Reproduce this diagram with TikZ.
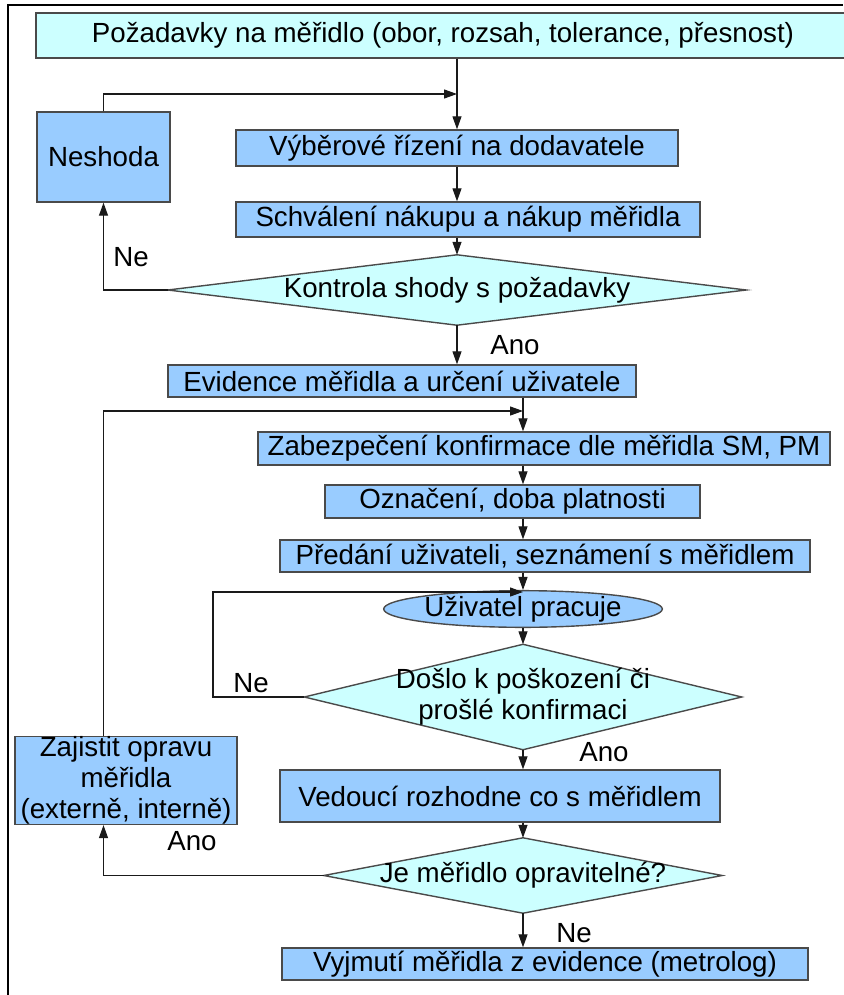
\documentclass[tikz,border=0pt]{standalone}
\usepackage{fontspec}
\setmainfont{Liberation Sans}
\usetikzlibrary{arrows.meta,shapes.geometric}
\definecolor{procblue}{HTML}{99CCFF}
\definecolor{decfill}{HTML}{CCFFFF}
\definecolor{edge}{HTML}{4A4A4A}
\definecolor{wire}{HTML}{1A1A1A}
\tikzset{
  txt/.style={font=\fontsize{27.7}{31}\selectfont},
  procbox/.style={rectangle, draw=edge, fill=procblue, line width=1.4pt, inner sep=0pt, txt},
  headbox/.style={procbox, fill=decfill},
  decframe/.style={rectangle, draw=none, inner sep=0pt},
  decshape/.style={draw=edge, fill=decfill, line width=1.4pt},
  termbox/.style={ellipse, draw=edge, fill=procblue, line width=1.4pt, inner sep=0pt, txt},
  lbl/.style={inner sep=0pt, txt},
  arr/.style={draw=wire, line width=1.2pt, -{Triangle[length=13pt,width=9pt]}},
}
\begin{document}
\begin{tikzpicture}[x=1pt, y=-1pt]
\useasboundingbox (0,0) rectangle (843,995);
\fill[white] (0,0) rectangle (843,995);
% outer frame (top and left edges)
\draw[line width=2pt, black] (8,995) -- (8,5) -- (843,5);

% process boxes
\node[headbox, minimum width=814, minimum height=45] (top) at (443,35.5) {Požadavky na měřidlo (obor, rozsah, tolerance, přesnost)};
\node[procbox, minimum width=133, minimum height=90] (nes) at (103.5,157) {Neshoda};
\node[procbox, minimum width=442, minimum height=36] (vyber) at (457,148) {Výběrové řízení na dodavatele};
\node[procbox, minimum width=464, minimum height=35] (schv) at (468,219.5) {Schválení nákupu a nákup měřidla};

% decision: Kontrola shody
\node[decframe, minimum width=578, minimum height=70] (k) at (457,290) {};
\filldraw[decshape] (k.west) -- (k.north) -- (k.east) -- (k.south) -- cycle;
\node[lbl] (ktxt) at (k.center) {Kontrola shody s požadavky};

\node[procbox, minimum width=468, minimum height=32] (evid) at (402,381) {Evidence měřidla a určení uživatele};
\node[procbox, minimum width=572, minimum height=33] (zab) at (544,448.5) {Zabezpečení konfirmace dle měřidla SM, PM};
\node[procbox, minimum width=375, minimum height=33] (ozn) at (512.5,501.5) {Označení, doba platnosti};
\node[procbox, minimum width=530, minimum height=32] (pred) at (545,556) {Předání uživateli, seznámení s měřidlem};
\node[termbox, minimum width=265, minimum height=27] (uz) at (523,609) {Uživatel pracuje};

% decision: poškození / konfirmace
\node[decframe, minimum width=437, minimum height=105] (d2) at (523,697) {};
\filldraw[decshape] (d2.west) -- (d2.north) -- (d2.east) -- (d2.south) -- cycle;
\node[lbl, align=center] (d2txt) at (d2.center) {Došlo k poškození či\\prošlé konfirmaci};

\node[procbox, minimum width=440, minimum height=52] (ved) at (500,796) {Vedoucí rozhodne co s měřidlem};

% decision: opravitelné
\node[decframe, minimum width=398, minimum height=75] (d3) at (523,875.5) {};
\filldraw[decshape] (d3.west) -- (d3.north) -- (d3.east) -- (d3.south) -- cycle;
\node[lbl] (d3txt) at (d3.center) {Je měřidlo opravitelné?};

\node[procbox, minimum width=222, minimum height=87, align=center] (zaj) at (126,780.5) {Zajistit opravu\\měřidla\\(externě, interně)};
\node[procbox, minimum width=526, minimum height=32] (vyj) at (545,964) {Vyjmutí měřidla z evidence (metrolog)};

% junction points of the loops
\coordinate (j1) at (457,94);
\coordinate (m1) at (523,411);
\coordinate (m2) at (523,592);
\coordinate (c2) at (213,592);

% connectors
\draw[arr] (vyber.north |- top.south) -- (vyber.north);
\draw[arr] (nes.north) |- (j1);
\draw[arr] (vyber.south) -- (vyber.south |- schv.north);
\draw[arr] (k.north |- schv.south) -- (k.north);
\draw[arr] (k.west) -| (nes.south);
\draw[arr] (k.south) -- (k.south |- evid.north);
\draw[arr] (evid.south -| m1) -- (zab.north -| m1);
\draw[arr] (zaj.north -| nes.south) |- (m1);
\draw[arr] (zab.south -| m1) -- (ozn.north -| m1);
\draw[arr] (ozn.south -| m1) -- (pred.north -| m1);
\draw[arr] (pred.south -| m1) -- (uz.north);
\draw[arr] (d2.west) -| (c2) -- (m2);
\draw[arr] (uz.south) -- (d2.north);
\draw[arr] (d2.south) -- (d2.south |- ved.north);
\draw[arr] (d2.south |- ved.south) -- (d3.north);
\draw[arr] (d3.west) -| (zaj.south -| nes.south);
\draw[arr] (d3.south) -- (d3.south |- vyj.north);

% branch labels
\node[lbl] (l1) at (131,257) {Ne};
\node[lbl] (l2) at (515,345) {Ano};
\node[lbl] (l3) at (251,683) {Ne};
\node[lbl] (l4) at (604,752) {Ano};
\node[lbl] (l5) at (192,841) {Ano};
\node[lbl] (l6) at (574,933) {Ne};
\end{tikzpicture}
\end{document}
